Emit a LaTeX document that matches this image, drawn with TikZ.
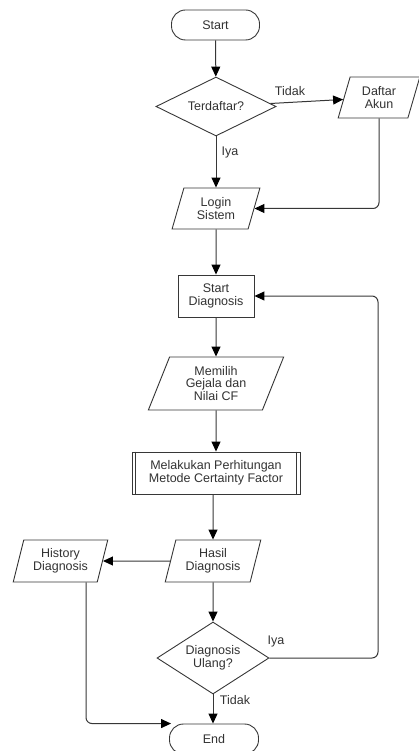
\documentclass[tikz,border=0pt]{standalone}
\usepackage{fontspec}
\setmainfont{Liberation Sans}
\usetikzlibrary{shapes.geometric,arrows.meta}
\definecolor{ln}{RGB}{55,55,55}
\definecolor{tx}{RGB}{50,50,50}
\begin{document}
\begin{tikzpicture}[x=1pt,y=-1pt,
  base/.style={draw=ln, line width=0.9pt, text=tx, font=\fontsize{12.5}{12.5}\selectfont, align=center, inner sep=0pt},
  term/.style={base, rectangle, rounded corners=14pt, minimum width=88pt, minimum height=30pt},
  dec/.style={base, diamond, aspect=2},
  io/.style={base, trapezium, trapezium left angle=72, trapezium right angle=108, trapezium stretches=true},
  arr/.style={draw=ln, line width=1pt, -{Triangle[length=10pt,width=9pt,color=black]}},
  lbl/.style={text=tx, font=\fontsize{12.5}{12.5}\selectfont, inner sep=0pt}
]
\useasboundingbox (0,0) rectangle (418,751);
\node[term] (start) at (215.5,25) {Start};
\node[dec, minimum width=120pt, minimum height=59pt] (reg) at (216,106.5) {Terdaftar?};
\node[io, minimum width=82pt, minimum height=41pt] (akun) at (379,97.5) {Daftar\\Akun};
\node[io, minimum width=88pt, minimum height=41pt] (login) at (216,208.5) {Login\\Sistem};
\node[base, rectangle, minimum width=76pt, minimum height=42pt] (sd) at (216,296) {Start\\Diagnosis};
\node[io, trapezium left angle=68, trapezium right angle=112, minimum width=136pt, minimum height=53pt] (gejala) at (216,383.5) {Memilih\\Gejala dan\\Nilai CF};
\node[base, rectangle, minimum width=168pt, minimum height=42pt] (cf) at (216,473) {Melakukan Perhitungan\\Metode Certainty Factor};
\draw[ln, line width=0.9pt] ([xshift=4pt]cf.north west) -- ([xshift=4pt]cf.south west);
\draw[ln, line width=0.9pt] ([xshift=-4pt]cf.north east) -- ([xshift=-4pt]cf.south east);
\node[io, minimum width=96pt, minimum height=42pt] (hasil) at (213,561) {Hasil\\Diagnosis};
\node[io, minimum width=95pt, minimum height=42pt] (hist) at (60.5,561) {History\\Diagnosis};
\node[dec, minimum width=112pt, minimum height=72pt] (ulang) at (213,658) {Diagnosis\\Ulang?};
\node[term, minimum width=89pt] (stop) at (214,739) {End};

\coordinate (loopc) at (378,480);
\coordinate (hx) at (86,0);

\draw[arr] (start) -- (reg);
\draw[arr] (reg) -- (akun);
\node[lbl] (t1) at (290,91) {Tidak};
\draw[arr] (reg) -- (login);
\node[lbl] (i1) at (230,152) {Iya};
\draw[arr, rounded corners=6pt] (akun.south) |- (login.east);
\draw[arr] (login) -- (sd);
\draw[arr] (sd) -- (gejala);
\draw[arr] (gejala) -- (cf);
\draw[arr] (cf.south -| hasil.north) -- (hasil);
\draw[arr] (hasil) -- (hist);
\draw[arr] (hasil) -- (ulang);
\draw[arr, rounded corners=6pt] (ulang.east) -| (loopc) |- (sd.east);
\node[lbl] (i2) at (276,641) {Iya};
\draw[arr] (ulang.south) -- (ulang.south |- stop.north);
\node[lbl] (t2) at (235,700) {Tidak};
\draw[arr, rounded corners=6pt] (hist.south -| hx) |- ([xshift=2pt]stop.north west);
\end{tikzpicture}
\end{document}
